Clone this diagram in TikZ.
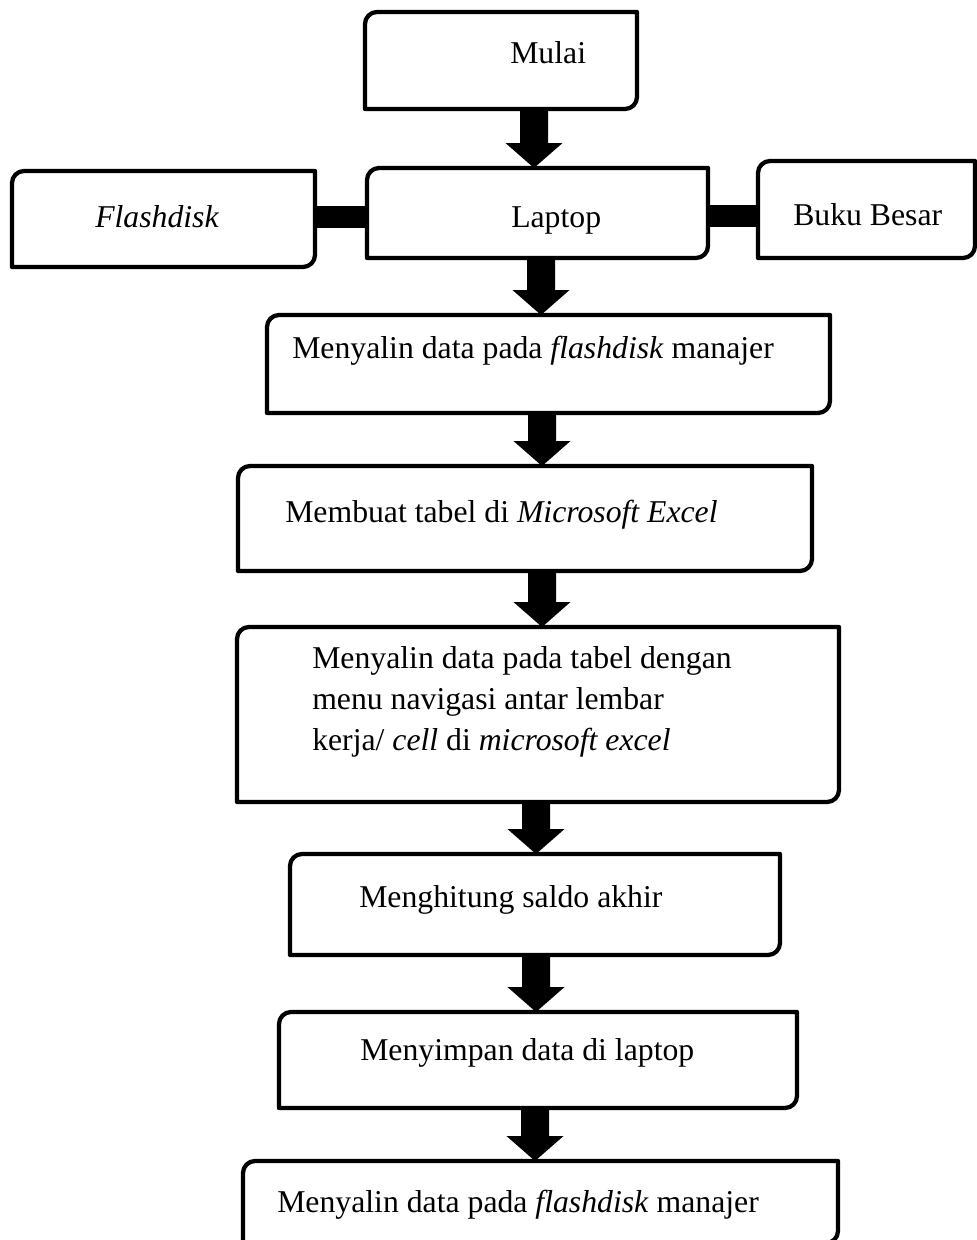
\documentclass[tikz,border=0pt]{standalone}
\usepackage{fontspec}
\setmainfont{Liberation Serif}
\usetikzlibrary{calc}
\tikzset{
  shp/.style={rectangle, inner sep=0pt, outer sep=0pt},
  boxline/.style={line width=3.2pt, line join=round},
  lbl/.style={anchor=base west, inner sep=0pt, font=\fontsize{23.8pt}{30.75pt}\selectfont},
  bar/.style={line width=16.5pt},
  arr/.style={fill=black}
}
\newcommand\pbox[5]{%
  \node[shp, minimum width={(#4-#2)*0.75pt}, minimum height={(#5-#3)*0.75pt}] (#1) at ({(#2+#4)/2},{-(#3+#5)/2}) {};
  \draw[boxline] ([yshift=-9pt]#1.north west) arc[start angle=180,end angle=90,radius=9pt] -- (#1.north east) -- ([yshift=9pt]#1.south east) arc[start angle=0,end angle=-90,radius=9pt] -- (#1.south west) -- cycle;}
\newcommand\blockarrow[3]{%
  \path[arr] let \p1=(#1.south), \p2=(#2.north) in
    ({#3*0.75pt-10.5pt},\y1) -- ({#3*0.75pt+10.5pt},\y1) -- ({#3*0.75pt+10.5pt},\y2+18.75pt)
    -- ({#3*0.75pt+21.4pt},\y2+18.75pt) -- ({#3*0.75pt},\y2) -- ({#3*0.75pt-21.4pt},\y2+18.75pt)
    -- ({#3*0.75pt-10.5pt},\y2+18.75pt) -- cycle;}
\begin{document}
\begin{tikzpicture}[x=0.75pt,y=0.75pt]
\useasboundingbox (0,0) rectangle (977,-1240);
\pbox{m}{365}{12}{637}{109}
\pbox{fd}{12}{171}{315}{267}
\pbox{lp}{367}{168}{708}{258}
\pbox{bb}{758}{161}{975}{258}
\pbox{b3}{267}{315}{830}{413}
\pbox{b4}{238}{466}{812}{571}
\pbox{b5}{237}{627}{839}{802}
\pbox{b6}{290}{854}{780}{955}
\pbox{b7}{279}{1012}{797}{1108}
\pbox{b8}{243}{1161}{838}{1243}
\draw[bar] ([yshift=1.5pt]fd.east) -- ([yshift=1.5pt]fd.east -| lp.west);
\draw[bar] ([yshift=-2.25pt]lp.east) -- ([yshift=-2.25pt]lp.east -| bb.west);
\blockarrow{m}{lp}{534}
\blockarrow{lp}{b3}{541}
\blockarrow{b3}{b4}{542}
\blockarrow{b4}{b5}{542}
\blockarrow{b5}{b6}{536}
\blockarrow{b6}{b7}{536}
\blockarrow{b7}{b8}{535}
\node[lbl] (t1) at (510,-63) {Mulai};
\node[lbl] (t2) at (95,-227) {\textit{Flashdisk}};
\node[lbl] (t3) at (511,-227) {Laptop};
\node[lbl] (t4) at (793,-225) {Buku Besar};
\node[lbl] (t5) at (292,-358) {Menyalin data pada \textit{flashdisk} manajer};
\node[lbl] (t6) at (285,-522) {Membuat tabel di \textit{Microsoft Excel}};
\node[lbl] (t7) at (312,-668) {\parbox[t]{480pt}{\fontsize{23.8pt}{30.75pt}\selectfont Menyalin data pada tabel dengan\\ menu navigasi antar lembar\\ kerja/ \textit{cell} di \textit{microsoft excel}}};
\node[lbl] (t8) at (359,-907) {Menghitung saldo akhir};
\node[lbl] (t9) at (360,-1060) {Menyimpan data di laptop};
\node[lbl] (t10) at (277,-1212) {Menyalin data pada \textit{flashdisk} manajer};
\end{tikzpicture}
\end{document}
